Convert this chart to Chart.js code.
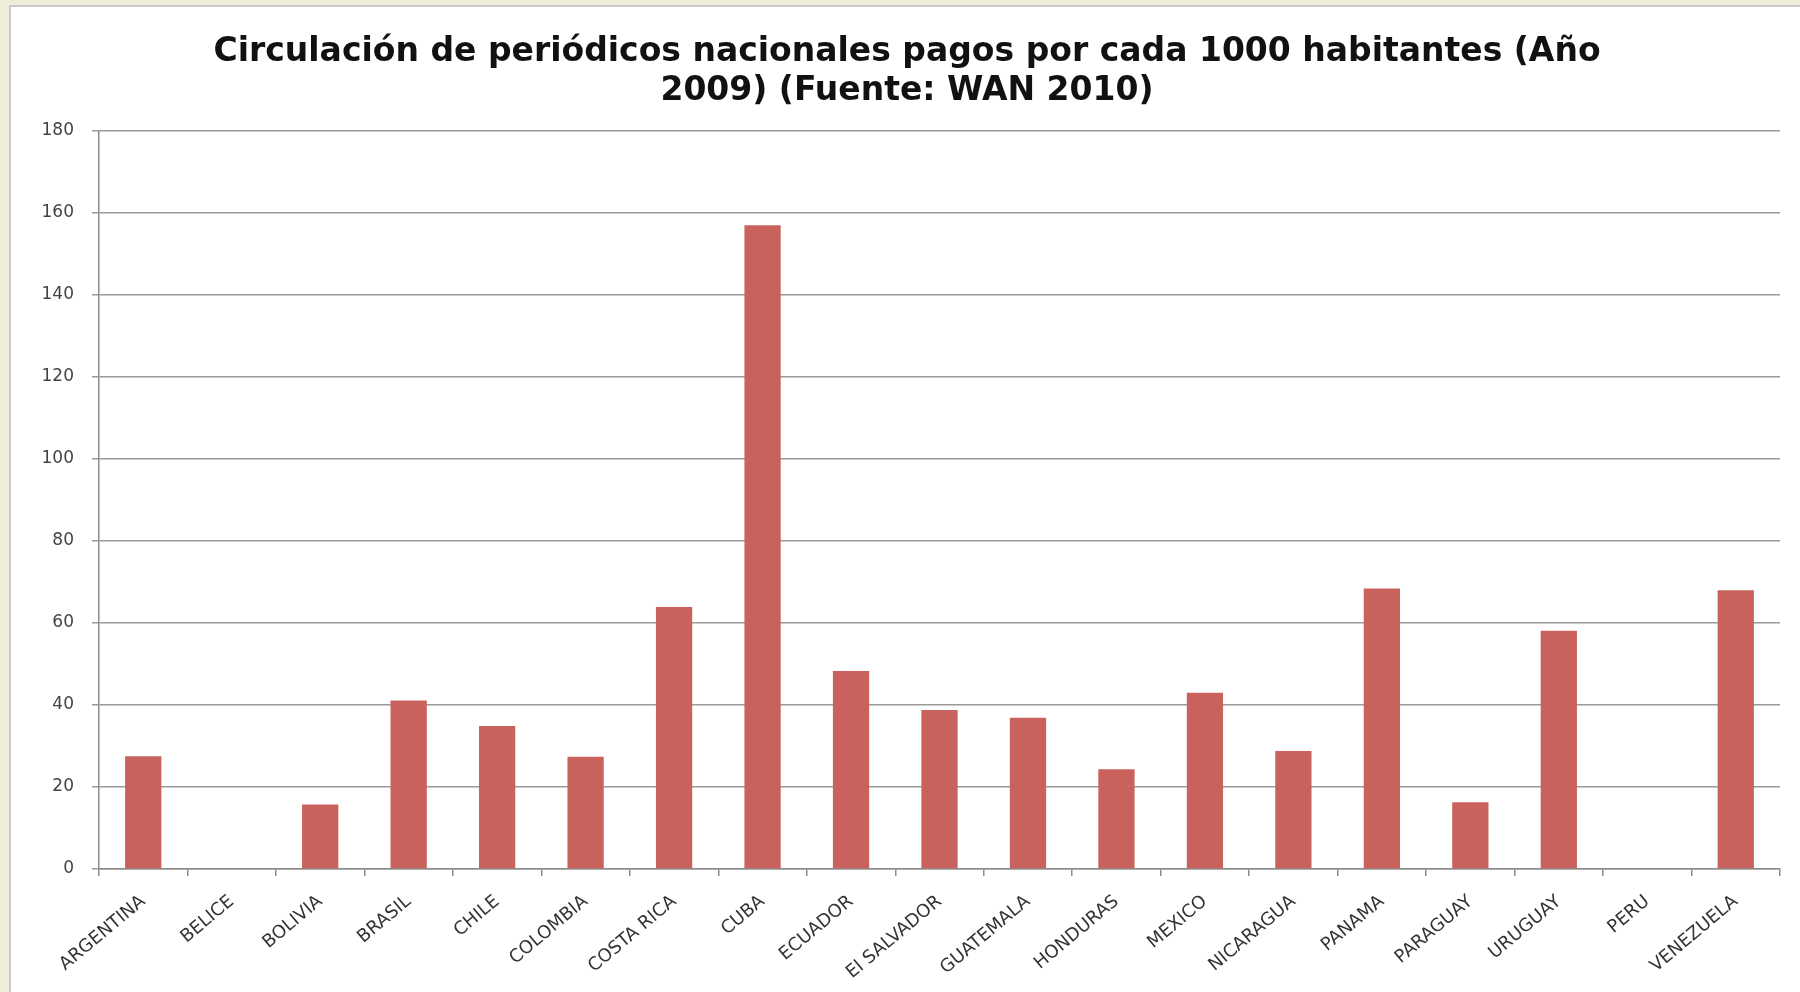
<!DOCTYPE html>
<html>
<head>
<meta charset="utf-8">
<script src="https://cdn.jsdelivr.net/npm/chart.js@4.4.1/dist/chart.umd.min.js"></script>
<style>
  html, body { margin: 0; padding: 0; }
  body { width: 1800px; height: 992px; background: #eeeddc; position: relative; overflow: hidden; }
  #panel {
    position: absolute; left: 9px; top: 5px; width: 1800px; height: 1000px;
    background: #fff; border-left: 2px solid #c9c9c9; border-top: 2px solid #c9c9c9;
  }
  #wrap { position: absolute; left: 0; top: 0; width: 1830px; height: 992px; }
</style>
</head>
<body>
<div id="panel"></div>
<div id="wrap"><canvas id="chart"></canvas></div>
<script>
const countries = ['ARGENTINA', 'BELICE', 'BOLIVIA', 'BRASIL', 'CHILE', 'COLOMBIA', 'COSTA RICA',
  'CUBA', 'ECUADOR', 'El SALVADOR', 'GUATEMALA', 'HONDURAS', 'MEXICO', 'NICARAGUA',
  'PANAMA', 'PARAGUAY', 'URUGUAY', 'PERU', 'VENEZUELA'];
const circulation = [27.5, 0, 15.7, 41.1, 34.9, 27.4, 63.9,
  157, 48.3, 38.8, 36.9, 24.3, 43.0, 28.8,
  68.4, 16.3, 58.1, 0, 68.0];
const titleLines = ['Circulación de periódicos nacionales pagos por cada 1000 habitantes (Año',
  '2009) (Fuente: WAN 2010)'];

const ctx = document.getElementById('chart').getContext('2d');
new Chart(ctx, {
  type: 'bar',
  data: {
    labels: countries,
    datasets: [{
      data: circulation,
      backgroundColor: '#c9625c',
      categoryPercentage: 1,
      barPercentage: 0.41
    }]
  },
  options: {
    responsive: true,
    maintainAspectRatio: false,
    animation: false,
    layout: { padding: { left: 34, right: 50, top: 0, bottom: 0 } },
    plugins: {
      legend: { display: false },
      tooltip: { enabled: false },
      title: {
        display: true,
        text: titleLines,
        color: '#111',
        font: { family: 'DejaVu Sans', size: 33, weight: 'bold', lineHeight: 1.18 },
        padding: { top: 33, bottom: 20 }
      }
    },
    scales: {
      x: {
        grid: { drawOnChartArea: false, drawTicks: true, tickLength: 7, color: '#8c8c8c', lineWidth: 1.5 },
        border: { display: true, color: '#8c8c8c', width: 1.5 },
        ticks: {
          color: '#333',
          font: { family: 'DejaVu Sans', size: 18 },
          maxRotation: 40, minRotation: 40,
          padding: 15,
          autoSkip: false
        },
        afterFit: s => { s.height = 123; }
      },
      y: {
        min: 0, max: 180,
        ticks: {
          stepSize: 20,
          color: '#444',
          font: { family: 'DejaVu Sans', size: 17 },
          padding: 18
        },
        grid: { color: '#9a9a9a', lineWidth: 1.5, tickLength: 7 },
        border: { display: true, color: '#8c8c8c', width: 1.5 },
        afterFit: s => { s.width = 65; }
      }
    }
  }
});
</script>
</body>
</html>
